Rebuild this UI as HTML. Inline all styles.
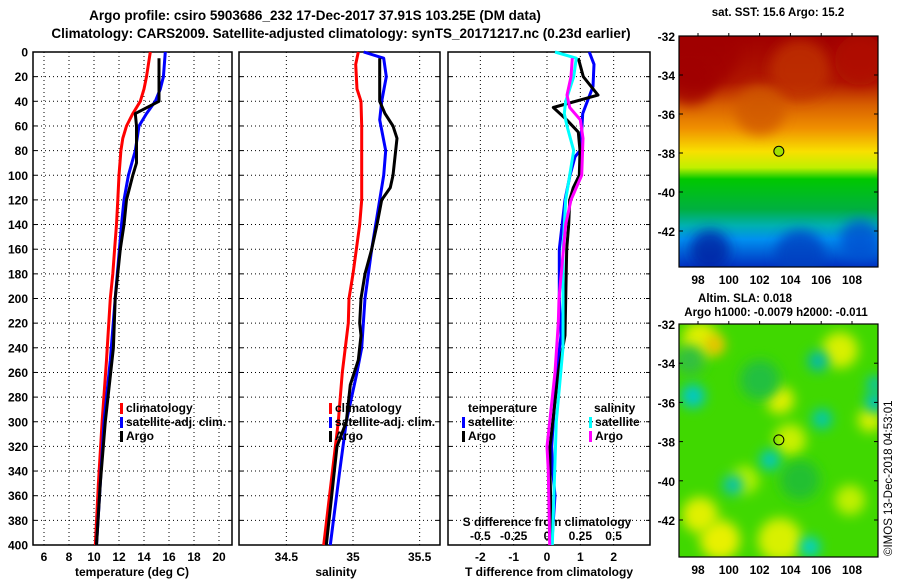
<!DOCTYPE html>
<html><head><meta charset="utf-8"><style>
body{margin:0;background:#fff;width:900px;height:580px;overflow:hidden}
svg{font-family:"Liberation Sans",sans-serif;font-weight:bold}
</style></head><body>
<svg id="fig" width="900" height="580" viewBox="0 0 900 580">
<defs>
<linearGradient id="sstg" x1="0" y1="0" x2="0" y2="1">
<stop offset="0" stop-color="#a00000"/><stop offset="0.2" stop-color="#b01800"/>
<stop offset="0.3" stop-color="#d86000"/><stop offset="0.4" stop-color="#f09000"/>
<stop offset="0.5" stop-color="#f8e000"/><stop offset="0.57" stop-color="#c0f000"/>
<stop offset="0.62" stop-color="#00c800"/><stop offset="0.75" stop-color="#00b040"/>
<stop offset="0.82" stop-color="#00b0b0"/><stop offset="0.88" stop-color="#0090f0"/>
<stop offset="1" stop-color="#0030c0"/></linearGradient>
<filter id="blur" x="-1" y="-1" width="3" height="3"><feGaussianBlur stdDeviation="6"/></filter>
<clipPath id="c2"><rect x="679" y="324" width="199" height="233"/></clipPath>
<clipPath id="c1"><rect x="679" y="36" width="199" height="231"/></clipPath>
</defs>
<text x="315" y="20" text-anchor="middle" font-size="13.5">Argo profile: csiro 5903686_232 17-Dec-2017 37.91S 103.25E (DM data)</text>
<text x="341" y="38" text-anchor="middle" font-size="13.5">Climatology: CARS2009. Satellite-adjusted climatology: synTS_20171217.nc (0.23d earlier)</text>
<g id="g"></g>
<text x="778" y="16" text-anchor="middle" font-size="11.5">sat. SST: 15.6 Argo: 15.2</text>
<text x="745" y="302" text-anchor="middle" font-size="11.5">Altim. SLA: 0.018</text>
<text x="776" y="316" text-anchor="middle" font-size="11.5">Argo h1000: -0.0079 h2000: -0.011</text>
<text transform="translate(892,556) rotate(-90)" font-size="11.5" font-weight="normal">©IMOS 13-Dec-2018 04:53:01</text>
</svg>
<script>
const depths=[0,10,20,30,40,50,60,70,80,100,120,140,160,180,200,250,300,350,400];
const tempClim=[14.5,14.35,14.2,14.0,13.7,13.1,12.6,12.3,12.15,12.0,11.9,11.8,11.65,11.5,11.3,11.0,10.65,10.35,10.1];
const tempSatD=[0,20,30,40,50,60,80,100,120,140,200,250,300,350,400];
const tempSat=[15.7,15.55,15.3,14.9,14.2,13.6,13.3,12.75,12.4,12.2,11.7,11.3,10.8,10.5,10.2];
const tempArgoD=[5,40,50,60,90,100,120,140,160,200,240,300,350,400];
const tempArgo=[15.2,15.2,13.3,13.4,13.4,13.1,12.6,12.4,12.1,11.7,11.55,10.9,10.5,10.2];
const salClimD=[0,10,30,40,60,120,140,180,200,220,260,300,400];
const salClim=[35.04,35.02,35.03,35.06,35.065,35.065,35.05,35.0,34.97,34.965,34.92,34.89,34.78];
const salSatD=[0,5,20,40,55,80,100,120,160,200,240,260,300,340,400];
const salSat=[35.08,35.23,35.25,35.215,35.2,35.245,35.23,35.2,35.14,35.09,35.065,35.03,34.95,34.9,34.83];
const salArgoD=[5,40,50,60,70,100,110,120,140,160,180,200,220,230,250,270,300,320,360,400];
const salArgo=[35.2,35.2,35.24,35.30,35.33,35.30,35.28,35.215,35.18,35.14,35.09,35.06,35.05,35.06,35.04,34.98,34.95,34.88,34.84,34.80];
const dTSatD=[0,10,28,45,50,60,80,85,100,120,160,200,230,260,300,320,340,360,400];
const dTSat=[1.27,1.41,1.38,1.14,1.07,1.05,0.99,0.84,0.69,0.54,0.37,0.37,0.42,0.29,0.19,0.14,0.17,0.24,0.14];
const dTArgoD=[5,20,35,45,55,65,80,100,110,120,140,160,230,260,320,340,400];
const dTArgo=[0.94,1.09,1.53,0.19,0.59,0.94,0.99,0.97,0.79,0.68,0.65,0.59,0.54,0.34,0.09,0.09,0.14];
const dSSatD=[0,5,20,40,50,60,80,100,120,160,240,300,400];
const dSSat=[0.06,0.22,0.2,0.14,0.13,0.15,0.2,0.17,0.14,0.12,0.12,0.07,0.04];
const dSArgoD=[5,20,35,45,55,70,100,110,120,140,200,220,260,300,320,340,400];
const dSArgo=[0.19,0.18,0.15,0.17,0.25,0.27,0.26,0.22,0.18,0.14,0.09,0.085,0.06,0.02,0,0.01,0.02];
const tempTicks=[6,8,10,12,14,16,18,20];
const salTicks=[34.5,35,35.5];
const dTTicks=[-2,-1,0,1,2];
const dSTicks=["-0.5","-0.25","0","0.25","0.5"];
const depthTicks=[];for(let d=0;d<=400;d+=20)depthTicks.push(d);
const latTicks=[-32,-34,-36,-38,-40,-42];
const lonTicks=[98,100,102,104,106,108];

const NS='http://www.w3.org/2000/svg';
const G=document.getElementById('g');
function mk(t,a,p){const e=document.createElementNS(NS,t);for(const k in a)e.setAttribute(k,a[k]);(p||G).appendChild(e);return e;}
const y0=52,y1=545;
const yD=d=>y0+d*(y1-y0)/400;
const xT=t=>44+(t-6)*12.5;
const xS=s=>353+(s-35)*133.3;
const xdT=v=>547+v*33.33;
const xdS=v=>547+v*133.3;
const panels=[{l:33,r:232,n:'temperature-panel'},{l:239,r:440,n:'salinity-panel'},{l:448,r:650,n:'difference-panel'}];
const vgrid=[tempTicks.map(xT),salTicks.map(xS),dTTicks.map(xdT)];
panels.forEach((p,i)=>{
  depthTicks.forEach(d=>{if(d>0&&d<400){const l=mk('line',{x1:p.l,x2:p.r,y1:yD(d),y2:yD(d),stroke:'#000','stroke-dasharray':'1 3','stroke-width':1});
  }
  const t=mk('line',{x1:p.l,x2:p.l+4,y1:yD(d),y2:yD(d),stroke:'#000'});
  const t2=mk('line',{x1:p.r-4,x2:p.r,y1:yD(d),y2:yD(d),stroke:'#000'});});
  vgrid[i].forEach(x=>{const l=mk('line',{x1:x,x2:x,y1:y0,y2:y1,stroke:'#000','stroke-dasharray':'1 3'});
  });
  const r=mk('rect',{x:p.l,y:y0,width:p.r-p.l,height:y1-y0,fill:'none',stroke:'#000','stroke-width':1.5});
  
});
depthTicks.forEach(d=>{const t=mk('text',{x:28,y:yD(d)+4.5,'text-anchor':'end','font-size':12});t.textContent=d;
});
function xl(vals,fx,labels,y){vals.forEach((v,i)=>{const t=mk('text',{x:fx(v),y:y,'text-anchor':'middle','font-size':12});t.textContent=labels?labels[i]:v;
});}
xl(tempTicks,xT,null,561);xl(salTicks,xS,null,561);xl(dTTicks,xdT,null,561);
xl(dSTicks.map(Number),xdS,dSTicks,540);
function lbl(x,y,s,n){const t=mk('text',{x:x,y:y,'text-anchor':'middle','font-size':12});t.textContent=s;}
lbl(132,576,'temperature (deg C)','temperature-axis-title');lbl(336,576,'salinity','salinity-axis-title');
lbl(549,576,'T difference from climatology','t-diff-axis-title');lbl(547,526,'S difference from climatology','s-diff-axis-title');
function line(ds,vs,fx,col,n){const pts=ds.map((d,i)=>fx(vs[i]).toFixed(1)+','+yD(d).toFixed(1)).join(' ');
const l=mk('polyline',{points:pts,fill:'none',stroke:col,'stroke-width':3,'stroke-linejoin':'round'});
}
line(depths,tempClim,xT,'#f00','temp-climatology-line');
line(tempSatD,tempSat,xT,'#00f','temp-satellite-line');
line(tempArgoD,tempArgo,xT,'#000','temp-argo-line');
line(salClimD,salClim,xS,'#f00','sal-climatology-line');
line(salSatD,salSat,xS,'#00f','sal-satellite-line');
line(salArgoD,salArgo,xS,'#000','sal-argo-line');
line(dTSatD,dTSat,xdT,'#00f','tdiff-satellite-line');
line(dTArgoD,dTArgo,xdT,'#000','tdiff-argo-line');
line(dSSatD,dSSat,xdS,'#0ff','sdiff-satellite-line');
line(dSArgoD,dSArgo,xdS,'#f0f','sdiff-argo-line');
function leg(x,y,col,s,n){if(col){const r=mk('rect',{x:x-6,y:y-9,width:3,height:11,fill:col});}
const t=mk('text',{x:x,y:y,'font-size':12});t.textContent=s;}
leg(126,412,'#f00','climatology','legend-climatology');leg(126,426,'#00f','satellite-adj. clim.','legend-satellite');leg(126,440,'#000','Argo','legend-argo');
leg(335,412,'#f00','climatology','legend-sal-climatology');leg(335,426,'#00f','satellite-adj. clim.','legend-sal-satellite');leg(335,440,'#000','Argo','legend-sal-argo');
leg(468,412,null,'temperature','legend-temperature-header');leg(468,426,'#00f','satellite','legend-tdiff-satellite');leg(468,440,'#000','Argo','legend-tdiff-argo');
leg(594,412,null,'salinity','legend-salinity-header');leg(595,426,'#0ff','satellite','legend-sdiff-satellite');leg(595,440,'#f0f','Argo','legend-sdiff-argo');
// maps
const xLon=l=>698+(l-98)*15.4;
const yLat1=a=>36+(-32-a)*19.5, yLat2=a=>324+(-32-a)*19.6;
const m1=mk('rect',{x:679,y:36,width:199,height:231,fill:'url(#sstg)'});
const mg=mk('g',{'clip-path':'url(#c1)'});
[[700,50,40,'#a00000'],[690,80,25,'#a00000'],[800,70,30,'#c03000'],[860,60,25,'#b01000'],[760,110,25,'#d05800'],[710,250,20,'#0020a0'],[800,255,25,'#0040c0'],[860,240,20,'#0050d0']].forEach(c=>mk('circle',{cx:c[0],cy:c[1],r:c[2],fill:c[3],filter:'url(#blur)',opacity:0.8},mg));
const m2=mk('rect',{x:679,y:324,width:199,height:233,fill:'#40d800'});
const mg2=mk('g',{'clip-path':'url(#c2)'});
[[700,340,18,'#e0f000'],[715,345,10,'#f0c000'],[840,350,18,'#d8f000'],[780,400,14,'#e0f000'],[790,440,16,'#c8f000'],[870,420,12,'#d8f000'],[720,540,20,'#e8f000'],[700,515,18,'#e0f000'],[780,540,22,'#d8f000'],[850,500,15,'#c0f000'],[745,480,14,'#b0f000'],[690,360,15,'#30c040'],[760,380,20,'#20c040'],[800,480,20,'#20c030'],
 [693,396,12,'#00c8c8'],[822,419,10,'#00c8b0'],[770,460,10,'#00c8c0'],[733,485,10,'#00c0b0'],[818,361,10,'#00b8b0'],[875,402,10,'#00c0c0'],[810,547,10,'#00d0d0'],[875,384,8,'#00c0c0']].forEach(c=>mk('circle',{cx:c[0],cy:c[1],r:c[2],fill:c[3],filter:'url(#blur)'},mg2));
[[36,267,yLat1,'sst'],[324,557,yLat2,'sla']].forEach(([t,b,fy,n])=>{
  const r=mk('rect',{x:679,y:t,width:199,height:b-t,fill:'none',stroke:'#000','stroke-width':1.2});
  latTicks.forEach(a=>{const tx=mk('text',{x:675,y:fy(a)+5,'text-anchor':'end','font-size':12});tx.textContent=a;
   mk('line',{x1:679,x2:683,y1:fy(a),y2:fy(a),stroke:'#000'});mk('line',{x1:874,x2:878,y1:fy(a),y2:fy(a),stroke:'#000'});});
  lonTicks.forEach(l=>{const tx=mk('text',{x:xLon(l),y:b+17,'text-anchor':'middle','font-size':12});tx.textContent=l;
   mk('line',{x1:xLon(l),x2:xLon(l),y1:t-3,y2:t,stroke:'#000'});});
  const c=mk('circle',{cx:xLon(103.25),cy:fy(-37.91),r:5,fill:n=='sst'?'#a0e000':'none',stroke:'#000','stroke-width':1});
});
</script>
</body></html>
